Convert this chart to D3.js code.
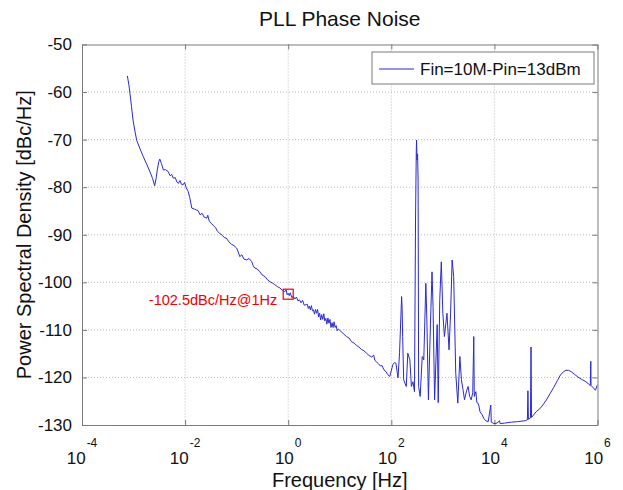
<!DOCTYPE html>
<html lang="en">
<head>
<meta charset="UTF-8"/>
<title>PLL Phase Noise</title>
<script src="https://d3js.org/d3.v7.min.js"></script>
<style>
	body { margin: 0; background: #fff; }
	text { font-family: "Liberation Sans", Arial, sans-serif; }
</style>
</head>
<body>
<div id="chart"></div>
<script>

	// log10 of frequency (Hz) for each trace point
	var freqExp = [
		-3.12, -3.09, -3.07, -3.04, -3.01, -2.97, -2.94, -2.88, -2.81, -2.74,
		-2.68, -2.63, -2.59, -2.56, -2.54, -2.51, -2.49, -2.46, -2.42, -2.38,
		-2.33, -2.29, -2.26, -2.23, -2.19, -2.16, -2.13, -2.10, -2.07, -2.04,
		-2.01, -1.98, -1.94, -1.91, -1.87, -1.82, -1.78, -1.75, -1.71, -1.67,
		-1.63, -1.58, -1.56, -1.53, -1.49, -1.45, -1.41, -1.37, -1.33, -1.28,
		-1.24, -1.20, -1.15, -1.10, -1.05, -1.00, -0.97, -0.94, -0.90, -0.86,
		-0.81, -0.76, -0.71, -0.68, -0.65, -0.60, -0.55, -0.50, -0.45, -0.40,
		-0.35, -0.30, -0.26, -0.21, -0.16, -0.11, -0.07, -0.04, -0.02, 0.00,
		0.02, 0.04, 0.07, 0.10, 0.13, 0.16, 0.19, 0.22, 0.25, 0.28,
		0.31, 0.35, 0.37, 0.39, 0.41, 0.43, 0.45, 0.47, 0.49, 0.51,
		0.53, 0.55, 0.57, 0.59, 0.61, 0.63, 0.65, 0.67, 0.69, 0.71,
		0.73, 0.75, 0.77, 0.79, 0.81, 0.83, 0.85, 0.87, 0.89, 0.91,
		0.93, 0.95, 0.97, 1.02, 1.08, 1.13, 1.18, 1.23, 1.28, 1.32,
		1.37, 1.42, 1.47, 1.52, 1.57, 1.62, 1.66, 1.68, 1.71, 1.75,
		1.79, 1.82, 1.84, 1.87, 1.90, 1.93, 1.97, 2.03, 2.06, 2.09,
		2.13, 2.16, 2.20, 2.21, 2.22, 2.24, 2.29, 2.32, 2.36, 2.39,
		2.42, 2.45, 2.47, 2.485, 2.49, 2.50, 2.51, 2.52, 2.53, 2.56,
		2.60, 2.63, 2.67, 2.69, 2.72, 2.76, 2.79, 2.81, 2.84, 2.89,
		2.91, 2.94, 2.97, 3.00, 3.03, 3.08, 3.12, 3.15, 3.18, 3.21,
		3.25, 3.29, 3.33, 3.36, 3.39, 3.42, 3.46, 3.49, 3.52, 3.55,
		3.58, 3.60, 3.61, 3.64, 3.66, 3.68, 3.70, 3.72, 3.76, 3.80,
		3.83, 3.88, 3.93, 3.94, 3.99, 4.05, 4.10, 4.11, 4.20, 4.33,
		4.45, 4.60, 4.64, 4.65, 4.66, 4.70, 4.71, 4.72, 4.76, 4.81,
		4.88, 4.94, 5.01, 5.08, 5.15, 5.22, 5.28, 5.34, 5.39, 5.44,
		5.49, 5.56, 5.62, 5.69, 5.76, 5.82, 5.86, 5.87, 5.875, 5.92,
		5.96, 6.00
	];

	// phase noise in dBc/Hz
	var psd = [
		-56.6, -58.5, -60.3, -63.0, -65.9, -68.4, -70.1, -71.8, -73.6, -75.3,
		-76.8, -78.2, -79.7, -78.0, -76.4, -74.6, -74.1, -75.0, -76.4, -76.3,
		-76.7, -77.6, -77.3, -78.1, -78.0, -78.9, -79.2, -78.6, -79.4, -79.5,
		-79.0, -80.1, -80.9, -82.2, -84.4, -84.6, -84.8, -84.9, -85.8, -85.5,
		-86.3, -86.5, -85.9, -87.2, -87.6, -88.1, -88.5, -89.3, -89.7, -90.1,
		-90.6, -90.7, -91.5, -92.0, -92.3, -92.8, -93.6, -94.6, -94.2, -95.1,
		-95.3, -95.0, -95.6, -96.5, -97.0, -97.2, -97.8, -98.5, -98.8, -99.5,
		-99.9, -100.2, -100.5, -100.9, -101.2, -101.7, -102.0, -101.6, -102.6, -102.3,
		-102.8, -102.2, -103.2, -103.0, -103.5, -103.1, -103.9, -103.7, -104.3, -103.8,
		-104.8, -104.7, -104.6, -105.5, -105.0, -105.8, -104.9, -106.0, -105.8, -106.7,
		-105.7, -106.5, -105.7, -107.3, -106.5, -107.9, -106.8, -107.8, -106.6, -108.1,
		-107.6, -108.8, -107.5, -108.6, -107.8, -109.5, -108.5, -109.5, -108.3, -109.5,
		-109.1, -110.2, -109.8, -110.3, -110.9, -111.4, -111.7, -112.5, -112.8, -113.2,
		-113.6, -114.1, -114.4, -114.9, -115.4, -115.7, -115.3, -116.4, -116.7, -117.1,
		-117.6, -117.5, -118.0, -118.6, -118.8, -119.4, -119.8, -117.3, -116.9, -117.0,
		-120.1, -114.8, -103.0, -105.5, -111.4, -120.5, -121.9, -114.9, -116.3, -121.9,
		-120.9, -123.0, -86.9, -72.0, -70.1, -74.3, -73.0, -78.5, -121.9, -124.0,
		-115.6, -116.3, -100.2, -107.9, -124.7, -108.6, -97.8, -105.1, -124.7, -108.9,
		-125.3, -103.7, -95.7, -106.5, -111.4, -106.5, -114.2, -106.5, -95.3, -98.8,
		-119.1, -125.4, -115.6, -120.5, -122.5, -124.7, -122.8, -121.9, -124.0, -124.7,
		-123.2, -111.4, -124.0, -123.0, -125.3, -125.4, -126.0, -127.2, -127.8, -128.7,
		-129.1, -129.3, -125.8, -129.4, -129.7, -129.6, -129.1, -129.7, -129.6, -129.4,
		-129.3, -129.1, -128.9, -122.8, -128.8, -128.5, -113.6, -128.4, -127.9, -127.2,
		-126.6, -125.8, -124.7, -123.4, -122.1, -120.7, -119.5, -118.8, -118.5, -118.5,
		-118.8, -119.4, -119.9, -120.4, -120.8, -121.3, -121.7, -116.6, -121.7, -122.2,
		-122.7, -121.5
	];

	// axis ticks
	var xTickExp = [-4, -2, 0, 2, 4, 6];
	var yTicks = [-130, -120, -110, -100, -90, -80, -70, -60, -50];

	// marked point
	var markFreq = 1;
	var markPsd = -102.5;
	var markLabel = "-102.5dBc/Hz@1Hz";
	var seriesName = "Fin=10M-Pin=13dBm";

	var w = 623;
	var h = 490;
	// plot box edges
	var pLeft = 82, pRight = 597.5, pTop = 44.5, pBottom = 425;

	var data = freqExp.map(function(e, i) {
		return { f: Math.pow(10, e), v: psd[i] };
	});

	var xScale = d3.scaleLog()
		.domain([1e-4, 1e6])
		.range([pLeft, pRight]);

	var yScale = d3.scaleLinear()
		.domain([-130, -50])
		.range([pBottom, pTop]);

	var xTicks = xTickExp.map(function(e) { return Math.pow(10, e); });

	var svg = d3.select("#chart")
		.append("svg")
		.attr("width", w)
		.attr("height", h);

	svg.append("rect")
		.attr("width", w).attr("height", h)
		.attr("fill", "white");

	//Grid
	svg.selectAll(".gx")
		.data(xTicks.slice(1, -1))
		.enter()
		.append("line")
		.attr("x1", function(d) { return xScale(d); })
		.attr("x2", function(d) { return xScale(d); })
		.attr("y1", pTop).attr("y2", pBottom)
		.attr("stroke", "#bbbbbb")
		.attr("stroke-dasharray", "1,2");

	svg.selectAll(".gy")
		.data(yTicks.slice(1, -1))
		.enter()
		.append("line")
		.attr("x1", pLeft).attr("x2", pRight)
		.attr("y1", function(d) { return yScale(d); })
		.attr("y2", function(d) { return yScale(d); })
		.attr("stroke", "#bbbbbb")
		.attr("stroke-dasharray", "1,2");

	//Axes (ticks inside, like matlab)
	var axes = [
		[d3.axisBottom(xScale).tickValues(xTicks), "translate(0," + pBottom + ")"],
		[d3.axisTop(xScale).tickValues(xTicks), "translate(0," + pTop + ")"],
		[d3.axisRight(yScale).tickValues(yTicks), "translate(" + pRight + ",0)"]
	];
	axes.forEach(function(a) {
		svg.append("g")
			.attr("transform", a[1])
			.call(a[0].tickSizeInner(-5).tickSizeOuter(0).tickFormat(""))
			.call(function(g) {
				g.selectAll("line, path").attr("stroke", "#7a7a7a");
			});
	});

	var yAxis = svg.append("g")
		.attr("transform", "translate(" + pLeft + ",0)")
		.call(d3.axisLeft(yScale)
			.tickValues(yTicks)
			.tickFormat(function(d) { return String(d); })
			.tickSizeInner(-5).tickSizeOuter(0).tickPadding(10));
	yAxis.selectAll("line, path").attr("stroke", "#7a7a7a");
	yAxis.selectAll("text")
		.attr("font-size", "17px")
		.attr("font-family", "Liberation Sans, Arial, sans-serif")
		.attr("fill", "#111");

	//x tick labels 10^n
	var xl = svg.selectAll(".xl")
		.data(xTickExp)
		.enter()
		.append("text")
		.attr("x", function(d) { return xScale(Math.pow(10, d)); })
		.attr("y", 464)
		.attr("text-anchor", "middle")
		.attr("font-size", "17px")
		.attr("fill", "#111");
	xl.append("tspan").text("10");
	xl.append("tspan")
		.attr("dy", -17)
		.attr("dx", 1)
		.attr("font-size", "12px")
		.text(function(d) { return d; });

	//Trace
	svg.append("clipPath").attr("id", "clip")
		.append("rect")
		.attr("x", pLeft).attr("y", pTop)
		.attr("width", pRight - pLeft).attr("height", pBottom - pTop);

	var line = d3.line()
		.x(function(d) { return xScale(d.f); })
		.y(function(d) { return yScale(d.v); });

	svg.append("path")
		.datum(data)
		.attr("clip-path", "url(#clip)")
		.attr("d", line)
		.attr("fill", "none")
		.attr("stroke", "#2a2ad0")
		.attr("stroke-width", 1);

	//Marker and label
	svg.append("rect")
		.attr("x", xScale(markFreq) - 5)
		.attr("y", yScale(markPsd) - 5)
		.attr("width", 10).attr("height", 10)
		.attr("fill", "none")
		.attr("stroke", "#ee0000")
		.attr("stroke-width", 1.2);

	svg.append("text")
		.attr("x", xScale(markFreq) - 11)
		.attr("y", yScale(markPsd) + 11)
		.attr("text-anchor", "end")
		.attr("font-size", "14.5px")
		.attr("fill", "#ee0000")
		.text(markLabel);

	//Legend
	svg.append("rect")
		.attr("x", 372).attr("y", 52)
		.attr("width", 222).attr("height", 32)
		.attr("fill", "white")
		.attr("stroke", "#7a7a7a");
	svg.append("line")
		.attr("x1", 379).attr("x2", 414)
		.attr("y1", 69).attr("y2", 69)
		.attr("stroke", "#2a2ad0");
	svg.append("text")
		.attr("x", 420).attr("y", 75)
		.attr("font-size", "17px")
		.attr("fill", "#111")
		.text(seriesName);

	//Titles
	svg.append("text")
		.attr("x", (pLeft + pRight) / 2).attr("y", 26)
		.attr("text-anchor", "middle")
		.attr("font-size", "21px")
		.attr("fill", "#111")
		.text("PLL Phase Noise");

	svg.append("text")
		.attr("x", (pLeft + pRight) / 2).attr("y", 487)
		.attr("text-anchor", "middle")
		.attr("font-size", "20px")
		.attr("fill", "#111")
		.text("Frequency [Hz]");

	svg.append("text")
		.attr("transform", "translate(31," + ((pTop + pBottom) / 2) + ") rotate(-90)")
		.attr("text-anchor", "middle")
		.attr("font-size", "20px")
		.attr("fill", "#111")
		.text("Power Spectral Density [dBc/Hz]");

</script>
</body>
</html>
